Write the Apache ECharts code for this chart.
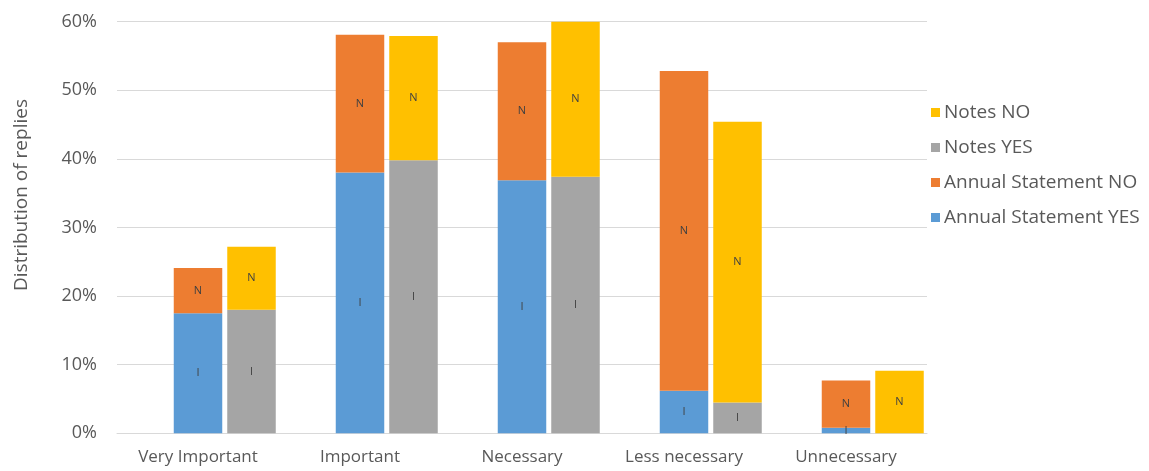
<!DOCTYPE html>
<html>
<head>
<meta charset="utf-8">
<script src="https://cdn.jsdelivr.net/npm/echarts@6/dist/echarts.min.js"></script>
<style>
  html, body { margin: 0; padding: 0; background: #ffffff; }
  #chart { width: 1149px; height: 471px; }
</style>
</head>
<body>
<div id="chart"></div>
<script>
// Importance ratings, share of replies (%)
const categories = ['Very Important', 'Important', 'Necessary', 'Less necessary', 'Unnecessary'];
const annualYes = [17.5, 38.0, 36.9, 6.2, 0.8];
const annualNo  = [6.6, 20.1, 20.1, 46.6, 6.9];
const notesYes  = [18.0, 39.8, 37.4, 4.5, 0];
const notesNo   = [9.2, 18.1, 22.6, 40.9, 9.1];
const yTicks = [0, 10, 20, 30, 40, 50, 60];

const FONT = '"Open Sans", "Liberation Sans", sans-serif';
const TEXT = '#595959';

function segLabel(ch) {
  return {
    show: true,
    position: 'inside',
    fontFamily: FONT,
    fontSize: 11,
    color: '#404040',
    formatter: p => (p.value > 0 ? ch : '')
  };
}

const chart = echarts.init(document.getElementById('chart'));
chart.setOption({
  animation: false,
  backgroundColor: '#ffffff',
  grid: [
    { left: 117, width: 810, top: 21.7, bottom: 37.7, containLabel: false },
    { left: 170.5, width: 810, top: 21.7, bottom: 37.7, containLabel: false }
  ],
  graphic: [
    {
      type: 'text',
      x: 22, y: 195,
      rotation: Math.PI / 2,
      style: {
        text: 'Distribution of replies',
        fontFamily: FONT, fontSize: 19, fill: TEXT,
        align: 'center', verticalAlign: 'middle'
      }
    }
  ],
  legend: {
    orient: 'vertical',
    left: 926,
    top: 98,
    itemWidth: 9,
    itemHeight: 9,
    itemGap: 16,
    icon: 'rect',
    textStyle: { fontFamily: FONT, fontSize: 19, color: TEXT, padding: [0, 0, 0, -1] },
    data: ['Notes NO', 'Notes YES', 'Annual Statement NO', 'Annual Statement YES']
  },
  xAxis: [
    {
      type: 'category', gridIndex: 0, data: categories,
      axisLine: { show: true, lineStyle: { color: '#D9D9D9', width: 1 } },
      axisTick: { show: false },
      axisLabel: { fontFamily: FONT, fontSize: 17, color: TEXT, margin: 15 }
    },
    {
      type: 'category', gridIndex: 1, data: categories,
      axisLine: { show: false }, axisTick: { show: false }, axisLabel: { show: false }
    }
  ],
  yAxis: [
    {
      type: 'value', gridIndex: 0, min: yTicks[0], max: yTicks[yTicks.length - 1], interval: 10,
      axisLine: { show: false }, axisTick: { show: false },
      axisLabel: { fontFamily: FONT, fontSize: 18, color: TEXT, margin: 20, formatter: '{value}%' },
      splitLine: { lineStyle: { color: '#D9D9D9', width: 1 } }
    },
    {
      type: 'value', gridIndex: 1, min: yTicks[0], max: yTicks[yTicks.length - 1], interval: 10,
      axisLine: { show: false }, axisTick: { show: false }, axisLabel: { show: false },
      splitLine: { show: false }
    }
  ],
  series: [
    {
      name: 'Annual Statement YES', type: 'bar', stack: 'annual', xAxisIndex: 0, yAxisIndex: 0,
      barWidth: 48.5, data: annualYes, itemStyle: { color: '#5B9BD5' }, label: segLabel('I')
    },
    {
      name: 'Annual Statement NO', type: 'bar', stack: 'annual', xAxisIndex: 0, yAxisIndex: 0,
      barWidth: 48.5, data: annualNo, itemStyle: { color: '#ED7D31' }, label: segLabel('N')
    },
    {
      name: 'Notes YES', type: 'bar', stack: 'notes', xAxisIndex: 1, yAxisIndex: 1,
      barWidth: 48.5, data: notesYes, itemStyle: { color: '#A5A5A5' }, label: segLabel('I')
    },
    {
      name: 'Notes NO', type: 'bar', stack: 'notes', xAxisIndex: 1, yAxisIndex: 1,
      barWidth: 48.5, data: notesNo, itemStyle: { color: '#FFC000' }, label: segLabel('N')
    }
  ]
});
</script>
</body>
</html>
